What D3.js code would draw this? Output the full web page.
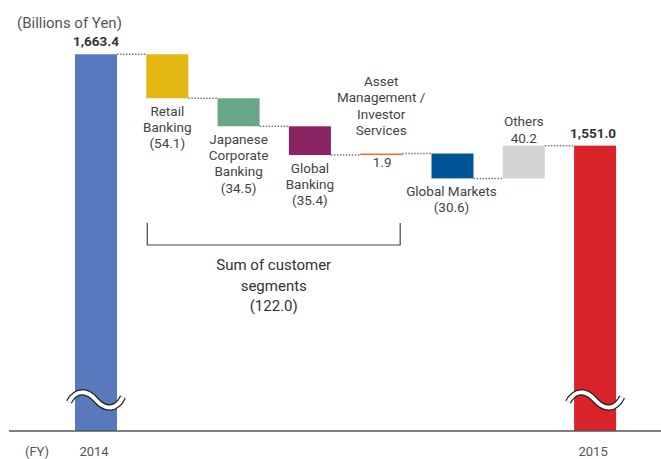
<!DOCTYPE html>
<html>
<head>
<meta charset="utf-8">
<script src="https://cdn.jsdelivr.net/npm/d3@7"></script>
<style>
  html, body { margin: 0; padding: 0; background: #fff; }
  svg { display: block; font-family: Roboto, "Noto Sans", sans-serif; }
</style>
</head>
<body>
<svg id="chart" width="661" height="459"></svg>
<script>
// Net income bridge FY2014 -> FY2015, billions of yen
const categories = ["2014", "retail", "jcb", "gb", "am", "gm", "others", "2015"];
const changes    = [1663.4, -54.1, -34.5, -35.4, 1.9, -30.6, 40.2, 1551.0];
const kinds      = ["total", "delta", "delta", "delta", "delta", "delta", "delta", "total"];
const colors     = ["#5879be", "#e5b714", "#68a687", "#8a2362", "#f26b30", "#005596", "#d1d2d3", "#d9222a"];
const labelLines = [
  [],
  ["Retail", "Banking", "(54.1)"],
  ["Japanese", "Corporate", "Banking", "(34.5)"],
  ["Global", "Banking", "(35.4)"],
  ["Asset", "Management /", "Investor", "Services"],
  ["Global Markets", "(30.6)"],
  ["Others", "40.2"],
  []
];
const totalLabels = ["1,663.4", "1,551.0"];
const yearLabels  = ["2014", "2015"];
const segmentSum  = 122.0;

const svg = d3.select("#chart");
const W = 661, H = 459;
const baseY = 431;

const x = d3.scaleBand().domain(categories).range([60.35, 630.75])
  .paddingInner(0.411).paddingOuter(0.2055);
const y = d3.scaleLinear().domain([1200, 1700]).range([baseY, baseY - 500 * 0.813]);

// compute waterfall spans
let running = 0;
const bars = categories.map((c, i) => {
  let lo, hi, end;
  if (kinds[i] === "total") {
    lo = 1200; hi = changes[i]; end = changes[i];
  } else {
    const start = running; end = running + changes[i];
    lo = Math.min(start, end); hi = Math.max(start, end);
  }
  running = end;
  return { c, i, lo, hi, end, color: colors[i] };
});

// bars
svg.append("g").selectAll("rect").data(bars).join("rect")
  .attr("x", d => x(d.c))
  .attr("width", x.bandwidth())
  .attr("y", d => y(d.hi))
  .attr("height", d => Math.max(y(d.lo) - y(d.hi), 1.5))
  .attr("fill", d => d.color);

// dotted connectors between consecutive bars
svg.append("g").selectAll("line").data(bars.slice(0, -1)).join("line")
  .attr("x1", d => x(d.c) + x.bandwidth())
  .attr("x2", d => x(categories[d.i + 1]))
  .attr("y1", d => y(d.end))
  .attr("y2", d => y(d.end))
  .attr("stroke", "#7a7a7a")
  .attr("stroke-width", 1.5)
  .attr("stroke-dasharray", "1.5,1.5");

// baseline
svg.append("line")
  .attr("x1", 9).attr("x2", W).attr("y1", baseY).attr("y2", baseY)
  .attr("stroke", "#555").attr("stroke-width", 1.5);

// axis break marks on total bars
const waveY = 400;
[categories[0], categories[categories.length - 1]].forEach(c => {
  const cx = x(c) + x.bandwidth() / 2;
  const p = `M${cx - 27},${waveY + 2} C${cx - 20},${waveY - 11} ${cx - 9},${waveY - 10} ${cx},${waveY} S${cx + 20},${waveY + 11} ${cx + 27},${waveY - 3}`;
  svg.append("path").attr("d", p).attr("fill", "none")
    .attr("stroke", "#222").attr("stroke-width", 6.5);
  svg.append("path").attr("d", p).attr("fill", "none")
    .attr("stroke", "#fff").attr("stroke-width", 4);
});

// unit caption
svg.append("text").attr("x", 17).attr("y", 28)
  .attr("font-size", 15).attr("fill", "#555").text("(Billions of Yen)");

// total value labels
[0, categories.length - 1].forEach((idx, k) => {
  svg.append("text")
    .attr("x", x(categories[idx]) + x.bandwidth() / 2 - (k ? 2 : 0))
    .attr("y", y(changes[idx]) - 8)
    .attr("text-anchor", "middle").attr("font-size", 13.5).attr("font-weight", 700)
    .attr("fill", "#333").text(totalLabels[k]);
});

// segment labels
const lh = 16.3;
const labelOffset = { retail: 13, jcb: 13, gb: 13, gm: 13 };
const gLab = svg.append("g").attr("font-size", 13.5).attr("fill", "#444").attr("text-anchor", "middle");
bars.forEach(d => {
  const lines = labelLines[d.i];
  if (!lines.length) return;
  const cx = x(d.c) + x.bandwidth() / 2;
  let firstY;
  if (d.c === "am") {
    firstY = y(d.hi) - 72;
  } else if (d.c === "others") {
    firstY = y(d.hi) - 24;
  } else {
    firstY = y(d.lo) + labelOffset[d.c];
  }
  lines.forEach((t, j) => {
    gLab.append("text").attr("x", cx - (d.c === "gm" ? 1 : 0)).attr("y", firstY + j * lh + 4.5).text(t);
  });
});
// value for the small asset management bar
const amBar = bars[4];
gLab.append("text").attr("x", x("am") + x.bandwidth() / 2 + 1)
  .attr("y", y(amBar.lo) + 12).text(changes[4].toFixed(1));

// bracket over customer segments
const bx1 = x("retail") + 1, bx2 = x("am") + x.bandwidth() - 2;
svg.append("path")
  .attr("d", `M${bx1},223 V245 H${bx2} V223`)
  .attr("fill", "none").attr("stroke", "#444").attr("stroke-width", 1.2);
const sumLines = ["Sum of customer", "segments", `(${segmentSum.toFixed(1)})`];
sumLines.forEach((t, j) => {
  svg.append("text").attr("x", (bx1 + bx2) / 2).attr("y", 270 + j * 20.5)
    .attr("text-anchor", "middle").attr("font-size", 15).attr("fill", "#333").text(t);
});

// fiscal year labels
svg.append("text").attr("x", 37).attr("y", 456).attr("text-anchor", "middle")
  .attr("font-size", 13).attr("fill", "#555").text("(FY)");
[0, categories.length - 1].forEach((idx, k) => {
  svg.append("text").attr("x", x(categories[idx]) + x.bandwidth() / 2 - 2)
    .attr("y", 456).attr("text-anchor", "middle")
    .attr("font-size", 13).attr("fill", "#555").text(yearLabels[k]);
});
</script>
</body>
</html>
